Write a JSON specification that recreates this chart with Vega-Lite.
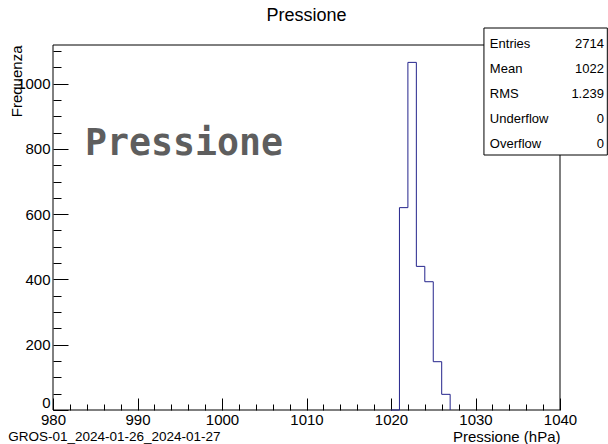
{
  "$schema": "https://vega.github.io/schema/vega-lite/v6.json",
  "autosize": {"type": "none"},
  "width": 507,
  "height": 365,
  "padding": {"left": 53, "top": 45, "right": 48, "bottom": 34},
  "background": "white",
  "config": {
    "view": {"stroke": null},
    "font": "Liberation Sans",
    "axis": {
      "labelFont": "Liberation Sans",
      "titleFont": "Liberation Sans",
      "labelColor": "black",
      "titleColor": "black",
      "tickColor": "black",
      "titleFontWeight": "normal",
      "grid": false,
      "domain": false
    }
  },
  "title": {
    "text": "Pressione",
    "anchor": "middle",
    "frame": "group",
    "font": "Liberation Sans",
    "fontSize": 18,
    "fontWeight": "normal",
    "color": "black",
    "baseline": "alphabetic",
    "offset": -11
  },
  "layer": [
    {
      "layer": [
        {
          "data": {"values": [{"part": "frame"}]},
          "mark": {"type": "rect", "filled": false, "stroke": "black", "strokeWidth": 1},
          "encoding": {
            "x": {"datum": 980},
            "x2": {"datum": 1040},
            "y": {"datum": 0},
            "y2": {"datum": 1118.25}
          }
        },
        {
          "data": {
            "values": [
              {"edge": 1020, "count": 0},
              {"edge": 1021, "count": 620},
              {"edge": 1022, "count": 1065},
              {"edge": 1023, "count": 440},
              {"edge": 1024, "count": 393},
              {"edge": 1025, "count": 148},
              {"edge": 1026, "count": 48},
              {"edge": 1027, "count": 0}
            ]
          },
          "mark": {"type": "line", "interpolate": "step-after", "color": "#24248c", "strokeWidth": 1},
          "encoding": {
            "x": {
              "field": "edge",
              "type": "quantitative",
              "scale": {"domain": [980, 1040], "nice": false, "zero": false},
              "axis": {
                "title": "Pressione (hPa)",
                "titleFontSize": 15,
                "titleAnchor": "end",
                "titleAlign": "right",
                "titleBaseline": "alphabetic",
                "titleY": 31,
                "values": [980, 982, 984, 986, 988, 990, 992, 994, 996, 998, 1000, 1002, 1004, 1006, 1008, 1010, 1012, 1014, 1016, 1018, 1020, 1022, 1024, 1026, 1028, 1030, 1032, 1034, 1036, 1038, 1040],
                "tickCount": 100,
                "format": "d",
                "labelExpr": "datum.value % 10 === 0 ? datum.label : ''",
                "labelFontSize": 15,
                "labelBaseline": "top",
                "labelFlush": false,
                "labelOverlap": false,
                "tickSize": {"condition": {"test": "datum.value % 10 === 0", "value": -12}, "value": -6},
                "labelPadding": 14
              }
            },
            "y": {
              "field": "count",
              "type": "quantitative",
              "scale": {"domain": [0, 1118.25], "nice": false},
              "axis": {
                "title": "Frequenza",
                "titleFontSize": 15,
                "titleAnchor": "end",
                "titleAlign": "right",
                "titleBaseline": "bottom",
                "titleX": -29,
                "titleY": 0,
                "values": [0, 50, 100, 150, 200, 250, 300, 350, 400, 450, 500, 550, 600, 650, 700, 750, 800, 850, 900, 950, 1000, 1050, 1100],
                "tickCount": 100,
                "format": "d",
                "labelExpr": "datum.value % 200 === 0 ? datum.label : ''",
                "labelFontSize": 15,
                "labelFlush": true,
                "labelOverlap": false,
                "tickSize": {"condition": {"test": "datum.value % 200 === 0", "value": -15}, "value": -8},
                "labelPadding": 18
              }
            }
          }
        },
        {
          "data": {"values": [{"caption": "Pressione"}]},
          "mark": {"type": "text", "font": "DejaVu Sans Mono", "fontWeight": "bold", "fontSize": 36.5, "color": "#5e5e5e", "align": "left", "baseline": "alphabetic"},
          "encoding": {"x": {"datum": 983.8}, "y": {"datum": 781}, "text": {"field": "caption"}}
        },
        {
          "data": {"values": [{"caption": "GROS-01_2024-01-26_2024-01-27"}]},
          "mark": {"type": "text", "font": "Liberation Sans", "fontSize": 13.5, "color": "black", "align": "left", "baseline": "middle", "clip": false},
          "encoding": {"x": {"datum": 974.7}, "y": {"datum": -83}, "text": {"field": "caption"}}
        },
        {
          "data": {"values": [{"part": "statsbox"}]},
          "mark": {"type": "rect", "fill": "white", "stroke": "black", "strokeWidth": 1, "clip": false},
          "encoding": {
            "x": {"datum": 1031.0},
            "x2": {"datum": 1045.6},
            "y": {"datum": 781.2},
            "y2": {"datum": 1170.3}
          }
        }
      ]
    },
    {
      "data": {
        "values": [
          {"stat": "Entries", "value": "2714"},
          {"stat": "Mean", "value": "1022"},
          {"stat": "RMS", "value": "1.239"},
          {"stat": "Underflow", "value": "0"},
          {"stat": "Overflow", "value": "0"}
        ]
      },
      "encoding": {
        "y": {
          "field": "stat",
          "type": "ordinal",
          "sort": null,
          "scale": {"type": "point", "domain": ["Entries", "Mean", "RMS", "Underflow", "Overflow"], "range": [-1, 99], "padding": 0},
          "axis": null
        }
      },
      "layer": [
        {
          "mark": {"type": "text", "font": "Liberation Sans", "fontSize": 13, "color": "black", "align": "left", "baseline": "middle"},
          "encoding": {"x": {"datum": 1031.7}, "text": {"field": "stat"}}
        },
        {
          "mark": {"type": "text", "font": "Liberation Sans", "fontSize": 13, "color": "black", "align": "right", "baseline": "middle"},
          "encoding": {"x": {"datum": 1045.2}, "text": {"field": "value"}}
        }
      ]
    }
  ],
  "resolve": {"scale": {"y": "independent"}}
}
